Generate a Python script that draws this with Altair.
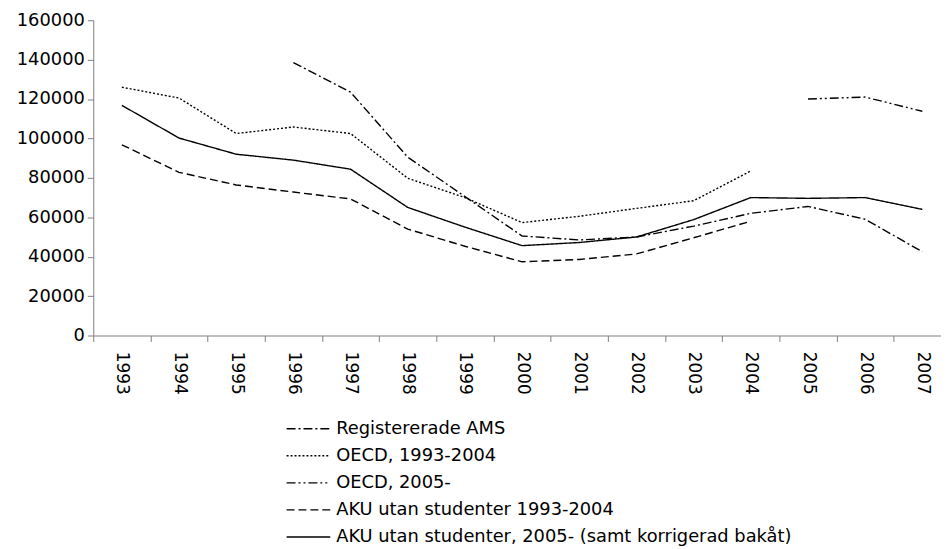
import altair as alt
import pandas as pd

years = ["1993", "1994", "1995", "1996", "1997", "1998", "1999", "2000",
         "2001", "2002", "2003", "2004", "2005", "2006", "2007"]

series_names = [
    "Registererade AMS",
    "OECD, 1993-2004",
    "OECD, 2005-",
    "AKU utan studenter 1993-2004",
    "AKU utan studenter, 2005- (samt korrigerad bakåt)",
]

ams = [None, None, None, 138500, 123500, 90500, 70500, 50500, 48500, 50000,
       55500, 62000, 65500, 59000, 42500]
oecd_1993 = [126000, 120500, 102500, 105800, 102500, 79800, 70000, 57300,
             60500, 64500, 68400, 83500, None, None, None]
oecd_2005 = [None, None, None, None, None, None, None, None, None, None,
             None, None, 120000, 121000, 113800]
aku_1993 = [96800, 82800, 76400, 72800, 69300, 54000, 45300, 37400, 38600,
            41400, 49600, 58000, None, None, None]
aku_2005 = [116800, 100200, 92000, 89000, 84400, 65000, 55000, 45600, 47200,
            50000, 58800, 70000, 69600, 70000, 64000]

dashes = [[9, 3, 2, 3], [2, 2], [9, 3, 2, 3, 2, 3], [8, 4], [1, 0]]

rows = []
for name, vals in zip(series_names, [ams, oecd_1993, oecd_2005, aku_1993, aku_2005]):
    for yr, v in zip(years, vals):
        if v is not None:
            rows.append({"year": yr, "value": v, "series": name})
df = pd.DataFrame(rows)

FONT = "DejaVu Sans"

chart = alt.Chart(df).mark_line(color="black", strokeWidth=1.4).encode(
    x=alt.X("year:O", sort=years,
            scale=alt.Scale(domain=years, range=[0, 865], paddingInner=0, paddingOuter=0),
            axis=alt.Axis(title=None, labelAngle=90, tickBand="extent",
                          labelFont=FONT, labelFontSize=17, labelColor="black",
                          labelPadding=10, tickSize=6, domainColor="#808080",
                          tickColor="#808080", grid=False, labelOverlap=False)),
    y=alt.Y("value:Q",
            scale=alt.Scale(domain=[0, 160000], nice=False),
            axis=alt.Axis(title=None, values=[0, 20000, 40000, 60000, 80000, 100000,
                                              120000, 140000, 160000],
                          format="d", labelFont=FONT, labelFontSize=18,
                          labelColor="black", labelPadding=3, tickSize=6,
                          domainColor="#808080", tickColor="#808080", grid=False)),
    strokeDash=alt.StrokeDash("series:N",
                              scale=alt.Scale(domain=series_names, range=dashes),
                              legend=alt.Legend(orient="none", legendX=205, legendY=400,
                                                title=None, symbolType="M-2,0L2,0",
                                                symbolSize=484, symbolStrokeWidth=1.4,
                                                symbolStrokeColor="black",
                                                labelFont=FONT, labelFontSize=18,
                                                labelColor="black", labelOffset=16,
                                                labelLimit=0, rowPadding=6.3,
                                                padding=0)),
    detail="series:N",
).properties(
    width=855, height=318,
    autosize=alt.AutoSizeParams(type="none"),
    padding={"left": 86, "top": 10, "right": 0, "bottom": 213},
).configure_view(stroke=None)

chart.save("out.html", embed_options={"renderer": "svg", "actions": False})
